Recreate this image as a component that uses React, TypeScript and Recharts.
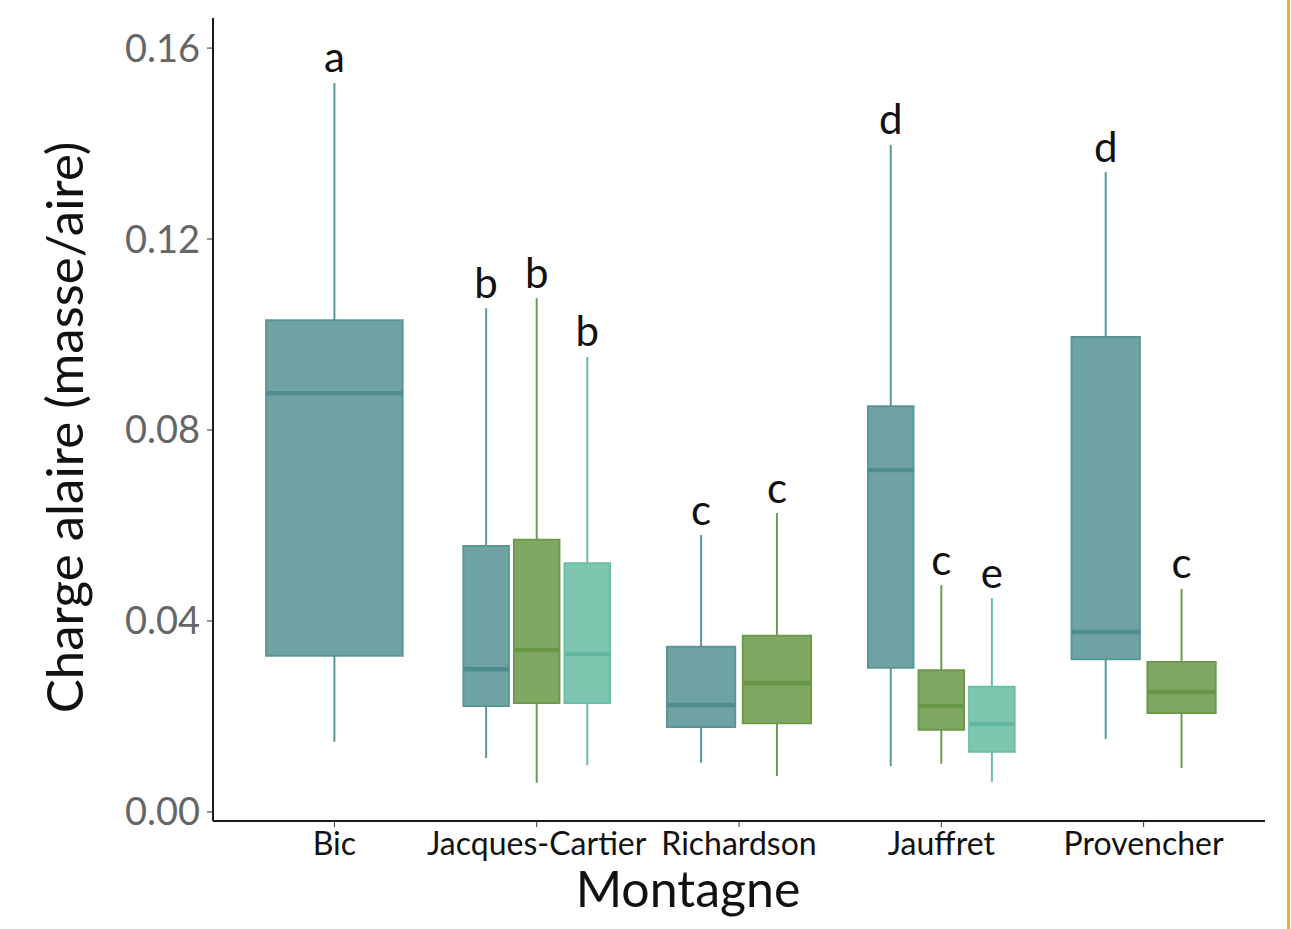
import {
  ComposedChart,
  XAxis,
  YAxis,
  Scatter,
  LabelList,
  ReferenceArea,
  ReferenceLine,
} from "recharts";

const groups = ["Bic", "Jacques-Cartier", "Richardson", "Jauffret", "Provencher"];

// one entry per box, left to right
const boxGroup = [0, 1, 1, 1, 2, 2, 3, 3, 3, 4, 4];
const boxKind = [0, 0, 1, 2, 0, 1, 0, 1, 2, 0, 1];
const whiskerLow = [0.0147, 0.0113, 0.0061, 0.0098, 0.0103, 0.0075, 0.0096, 0.0101, 0.0063, 0.0153, 0.0092];
const q1 = [0.0327, 0.0222, 0.0228, 0.0228, 0.0178, 0.0186, 0.0302, 0.0172, 0.0126, 0.032, 0.0207];
const median = [0.0877, 0.0299, 0.0339, 0.0331, 0.0224, 0.027, 0.0716, 0.0222, 0.0184, 0.0377, 0.0251];
const q3 = [0.103, 0.0557, 0.057, 0.0521, 0.0346, 0.0369, 0.085, 0.0297, 0.0262, 0.0995, 0.0314];
const whiskerHigh = [0.1527, 0.1055, 0.1076, 0.0953, 0.058, 0.0626, 0.1397, 0.0475, 0.0448, 0.134, 0.0467];
const letters = ["a", "b", "b", "b", "c", "c", "d", "c", "e", "d", "c"];

const yTicks = [0, 0.04, 0.08, 0.12, 0.16];
const xTicks = [1, 2, 3, 4, 5];

const palette = [
  { fill: "#6fa3a3", stroke: "#5b9697", mid: "#4f8d8e" },
  { fill: "#80a862", stroke: "#6c9a4b", mid: "#679646" },
  { fill: "#7fc6b1", stroke: "#6dbea7", mid: "#66b7a0" },
];

const font = "Lato, 'Open Sans', sans-serif";

// ggplot-style dodge: 0.75 of a category, boxes take 90% of their slot
const boxes = boxGroup.map((g, i) => {
  const n = boxGroup.filter((v) => v === g).length;
  const j = boxGroup.slice(0, i).filter((v) => v === g).length;
  const slot = 0.75 / n;
  const x = g + 1 + (j - (n - 1) / 2) * slot;
  const half = (slot * 0.9) / 2;
  return {
    x,
    x1: x - half,
    x2: x + half,
    lo: whiskerLow[i],
    q1: q1[i],
    med: median[i],
    q3: q3[i],
    hi: whiskerHigh[i],
    letter: letters[i],
    colors: palette[boxKind[i]],
  };
});

const letterPoints = boxes.map((b) => ({ x: b.x, y: b.hi, letter: b.letter }));

function XTitle({ viewBox }: any) {
  const { x, y, width } = viewBox;
  return (
    <text x={x + width / 2 - 51} y={y + 86} textAnchor="middle" fontSize={50} fontFamily={font} fill="#111">
      Montagne
    </text>
  );
}

function YTitle({ viewBox }: any) {
  const { y, height } = viewBox;
  const cx = 75;
  const cy = y + height / 2 + 8;
  return (
    <text
      x={cx}
      y={cy}
      transform={`rotate(-90, ${cx}, ${cy})`}
      textAnchor="middle"
      fontSize={51}
      fontFamily={font}
      fill="#111"
    >
      Charge alaire (masse/aire)
    </text>
  );
}

export default function App() {
  return (
    <div style={{ fontFamily: font }}>
      <ComposedChart width={1275} height={913} margin={{ top: 10, right: 18, bottom: 0, left: 0 }}>
        <XAxis
          type="number"
          dataKey="x"
          domain={[0.4, 5.6]}
          ticks={xTicks}
          allowDataOverflow
          height={100}
          tickFormatter={(v) => groups[v - 1]}
          axisLine={{ stroke: "#1a1a1a", strokeWidth: 2 }}
          tickLine={{ stroke: "#333" }}
          tickSize={6}
          tickMargin={5}
          tick={{ fill: "#111", fontSize: 32, fontFamily: font }}
          label={<XTitle />}
        />
        <YAxis
          type="number"
          dataKey="y"
          domain={[-0.0019, 0.1663]}
          ticks={yTicks}
          allowDataOverflow
          width={205}
          tickFormatter={(v) => v.toFixed(2)}
          axisLine={{ stroke: "#1a1a1a", strokeWidth: 2 }}
          tickLine={{ stroke: "#333" }}
          tickSize={6}
          tickMargin={7}
          tick={{ fill: "#666", fontSize: 38, fontFamily: font }}
          label={<YTitle />}
        />
        {boxes.map((b, i) => (
          <ReferenceLine
            key={`wh${i}`}
            segment={[{ x: b.x, y: b.q3 }, { x: b.x, y: b.hi }]}
            stroke={b.colors.stroke}
            strokeWidth={2}
          />
        ))}
        {boxes.map((b, i) => (
          <ReferenceLine
            key={`wl${i}`}
            segment={[{ x: b.x, y: b.lo }, { x: b.x, y: b.q1 }]}
            stroke={b.colors.stroke}
            strokeWidth={2}
          />
        ))}
        {boxes.map((b, i) => (
          <ReferenceArea
            key={`box${i}`}
            x1={b.x1}
            x2={b.x2}
            y1={b.q1}
            y2={b.q3}
            fill={b.colors.fill}
            fillOpacity={1}
            stroke={b.colors.stroke}
            strokeWidth={2}
          />
        ))}
        {boxes.map((b, i) => (
          <ReferenceLine
            key={`med${i}`}
            segment={[{ x: b.x1, y: b.med }, { x: b.x2, y: b.med }]}
            stroke={b.colors.mid}
            strokeWidth={4.5}
          />
        ))}
        <Scatter data={letterPoints} dataKey="y" isAnimationActive={false} shape={() => <g />}>
          <LabelList dataKey="letter" position="top" offset={6} fill="#111" fontSize={42} fontFamily={font} />
        </Scatter>
      </ComposedChart>
      <div
        style={{
          position: "fixed",
          left: 1287,
          top: 0,
          width: 3,
          height: 929,
          background: "#f7a83a",
        }}
      />
    </div>
  );
}
